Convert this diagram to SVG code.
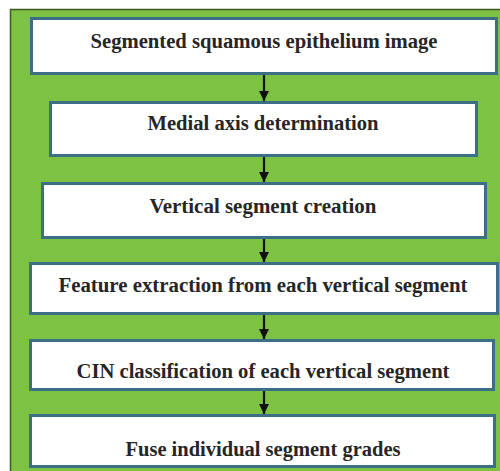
<svg xmlns="http://www.w3.org/2000/svg" width="500" height="471" viewBox="0 0 500 471">
<defs>
<style>
.box{fill:#ffffff;stroke:#3a6f86;stroke-width:3}
.lbl{font-family:"Liberation Serif","Times New Roman",serif;font-weight:bold;font-size:20px;fill:#262626;text-anchor:middle}
.conn{stroke:#111;stroke-width:2.2;fill:none}
</style>
<marker id="ah2" markerWidth="10" markerHeight="10" refX="10" refY="5" orient="auto" markerUnits="userSpaceOnUse" viewBox="0 0 10 10">
<path d="M0,0 L10,5 L0,10 Z" fill="#111"/>
</marker>
</defs>
<rect x="0" y="0" width="500" height="471" fill="#ffffff"/>
<rect x="10.5" y="9.5" width="492" height="465" fill="#7dc243" stroke="#3d5a22" stroke-width="1.5"/>
<g id="connectors">
<line class="conn" x1="264" y1="75" x2="264" y2="101" marker-end="url(#ah2)"/>
<line class="conn" x1="264" y1="157" x2="264" y2="182" marker-end="url(#ah2)"/>
<line class="conn" x1="264" y1="238" x2="264" y2="262" marker-end="url(#ah2)"/>
<line class="conn" x1="264" y1="314" x2="264" y2="339" marker-end="url(#ah2)"/>
<line class="conn" x1="264" y1="390" x2="264" y2="414" marker-end="url(#ah2)"/>
</g>
<g id="n1"><rect class="box" x="31.5" y="18.5" width="465" height="55"/><text class="lbl" x="264" y="48" textLength="347" lengthAdjust="spacingAndGlyphs">Segmented squamous epithelium image</text></g>
<g id="n2"><rect class="box" x="50.5" y="102.5" width="426" height="53"/><text class="lbl" x="263" y="130" textLength="231" lengthAdjust="spacingAndGlyphs">Medial axis determination</text></g>
<g id="n3"><rect class="box" x="42.5" y="183.5" width="443" height="54"/><text class="lbl" x="263" y="213" textLength="227" lengthAdjust="spacingAndGlyphs">Vertical segment creation</text></g>
<g id="n4"><rect class="box" x="30.5" y="263.5" width="467" height="50"/><text class="lbl" x="263" y="292" textLength="409" lengthAdjust="spacingAndGlyphs">Feature extraction from each vertical segment</text></g>
<g id="n5"><rect class="box" x="30.5" y="340.5" width="463" height="49"/><text class="lbl" x="263" y="378" textLength="373" lengthAdjust="spacingAndGlyphs">CIN classification of each vertical segment</text></g>
<g id="n6"><rect class="box" x="30.5" y="415.5" width="464" height="51"/><text class="lbl" x="263" y="456" textLength="275" lengthAdjust="spacingAndGlyphs">Fuse individual segment grades</text></g>
</svg>
